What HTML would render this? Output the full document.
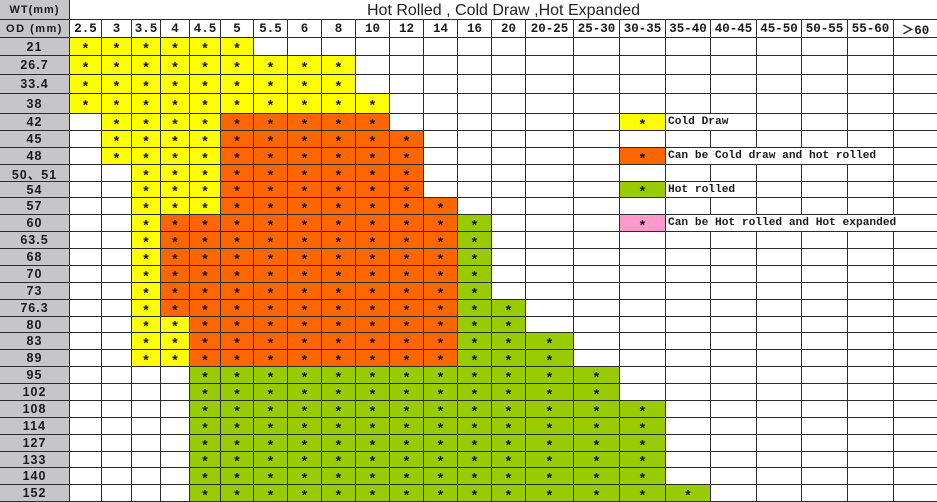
<!DOCTYPE html>
<html><head><meta charset="utf-8">
<style>
html,body{margin:0;padding:0;background:#fff;}
.g{display:grid;width:937px;height:502px;box-sizing:border-box;padding-bottom:1px;gap:1px;background:#2b2b2b;
grid-template-columns:69px 31px 29px 28px 28px 30px 32px 33px 33px 33px 33px 33px 33px 33px 33px 47px 45px 45px 44px 45px 44px 45px 45px 43px;
grid-template-rows:19px 17px 17px 18px 18px 19px 16px 16px 16px 16px 15px 16px 16px 16px 16px 16px 16px 16px 15px 16px 16px 16px 16px 16px 16px 16px 15px 16px 16px;}
.g>*{display:flex;align-items:center;justify-content:center;background:#fff;color:#1a1a1a;overflow:hidden;box-sizing:border-box;white-space:nowrap;font:bold 12px "Liberation Mono","Noto Sans CJK SC",monospace;}
y,o,v,k{padding-top:7px;line-height:10px;font-size:14px !important;color:#111 !important;}
y{background:#ffff00 !important}
o{background:#ff6600 !important}
v{background:#99cc00 !important}
k{background:#ff99cc !important}
h{font-size:12.5px !important;}
l{background:#c6c6c8 !important;font:bold 12.5px "Liberation Sans","Noto Sans CJK SC",sans-serif !important;letter-spacing:1px;}
l.wt{font-size:11px !important;}
l.od{font-size:11px !important;letter-spacing:1.5px;}
.ti{grid-column:2 / -1;font:16px "Liberation Sans",sans-serif !important;padding-top:3px;color:#222;}
t{justify-content:flex-start !important;padding-left:2px;font-size:11.2px !important;}
</style></head><body>
<div class="g">
<l class="wt">WT(mm)</l><div class="ti">Hot Rolled , Cold Draw ,Hot Expanded</div>
<l class="od">OD (mm)</l><h>2.5</h><h>3</h><h>3.5</h><h>4</h><h>4.5</h><h>5</h><h>5.5</h><h>6</h><h>8</h><h>10</h><h>12</h><h>14</h><h>16</h><h>20</h><h>20-25</h><h>25-30</h><h>30-35</h><h>35-40</h><h>40-45</h><h>45-50</h><h>50-55</h><h>55-60</h><h>＞60</h>

<l>21</l><y>*</y><y>*</y><y>*</y><y>*</y><y>*</y><y>*</y><w></w><w></w><w></w><w></w><w></w><w></w><w></w><w></w><w></w><w></w><w></w><w></w><w></w><w></w><w></w><w></w><w></w>

<l>26.7</l><y>*</y><y>*</y><y>*</y><y>*</y><y>*</y><y>*</y><y>*</y><y>*</y><y>*</y><w></w><w></w><w></w><w></w><w></w><w></w><w></w><w></w><w></w><w></w><w></w><w></w><w></w><w></w>

<l>33.4</l><y>*</y><y>*</y><y>*</y><y>*</y><y>*</y><y>*</y><y>*</y><y>*</y><y>*</y><w></w><w></w><w></w><w></w><w></w><w></w><w></w><w></w><w></w><w></w><w></w><w></w><w></w><w></w>

<l>38</l><y>*</y><y>*</y><y>*</y><y>*</y><y>*</y><y>*</y><y>*</y><y>*</y><y>*</y><y>*</y><w></w><w></w><w></w><w></w><w></w><w></w><w></w><w></w><w></w><w></w><w></w><w></w><w></w>

<l>42</l><w></w><y>*</y><y>*</y><y>*</y><y>*</y><o>*</o><o>*</o><o>*</o><o>*</o><o>*</o><w></w><w></w><w></w><w></w><w></w><w></w><y>*</y><t style="grid-column:span 2">Cold Draw</t><w></w><w></w><w></w><w></w>

<l>45</l><w></w><y>*</y><y>*</y><y>*</y><y>*</y><o>*</o><o>*</o><o>*</o><o>*</o><o>*</o><o>*</o><w></w><w></w><w></w><w></w><w></w><w></w><w></w><w></w><w></w><w></w><w></w><w></w>

<l>48</l><w></w><y>*</y><y>*</y><y>*</y><y>*</y><o>*</o><o>*</o><o>*</o><o>*</o><o>*</o><o>*</o><w></w><w></w><w></w><w></w><w></w><o>*</o><t style="grid-column:span 5">Can be Cold draw and hot rolled</t><w></w>

<l>50、51</l><w></w><w></w><y>*</y><y>*</y><y>*</y><o>*</o><o>*</o><o>*</o><o>*</o><o>*</o><o>*</o><w></w><w></w><w></w><w></w><w></w><w></w><w></w><w></w><w></w><w></w><w></w><w></w>

<l>54</l><w></w><w></w><y>*</y><y>*</y><y>*</y><o>*</o><o>*</o><o>*</o><o>*</o><o>*</o><o>*</o><w></w><w></w><w></w><w></w><w></w><v>*</v><t style="grid-column:span 2">Hot rolled</t><w></w><w></w><w></w><w></w>

<l>57</l><w></w><w></w><y>*</y><y>*</y><y>*</y><o>*</o><o>*</o><o>*</o><o>*</o><o>*</o><o>*</o><o>*</o><w></w><w></w><w></w><w></w><w></w><w></w><w></w><w></w><w></w><w></w><w></w>

<l>60</l><w></w><w></w><y>*</y><o>*</o><o>*</o><o>*</o><o>*</o><o>*</o><o>*</o><o>*</o><o>*</o><o>*</o><v>*</v><w></w><w></w><w></w><k>*</k><t style="grid-column:span 6">Can be Hot rolled and Hot expanded</t>

<l>63.5</l><w></w><w></w><y>*</y><o>*</o><o>*</o><o>*</o><o>*</o><o>*</o><o>*</o><o>*</o><o>*</o><o>*</o><v>*</v><w></w><w></w><w></w><w></w><w></w><w></w><w></w><w></w><w></w><w></w>

<l>68</l><w></w><w></w><y>*</y><o>*</o><o>*</o><o>*</o><o>*</o><o>*</o><o>*</o><o>*</o><o>*</o><o>*</o><v>*</v><w></w><w></w><w></w><w></w><w></w><w></w><w></w><w></w><w></w><w></w>

<l>70</l><w></w><w></w><y>*</y><o>*</o><o>*</o><o>*</o><o>*</o><o>*</o><o>*</o><o>*</o><o>*</o><o>*</o><v>*</v><w></w><w></w><w></w><w></w><w></w><w></w><w></w><w></w><w></w><w></w>

<l>73</l><w></w><w></w><y>*</y><o>*</o><o>*</o><o>*</o><o>*</o><o>*</o><o>*</o><o>*</o><o>*</o><o>*</o><v>*</v><w></w><w></w><w></w><w></w><w></w><w></w><w></w><w></w><w></w><w></w>

<l>76.3</l><w></w><w></w><y>*</y><o>*</o><o>*</o><o>*</o><o>*</o><o>*</o><o>*</o><o>*</o><o>*</o><o>*</o><v>*</v><v>*</v><w></w><w></w><w></w><w></w><w></w><w></w><w></w><w></w><w></w>

<l>80</l><w></w><w></w><y>*</y><y>*</y><o>*</o><o>*</o><o>*</o><o>*</o><o>*</o><o>*</o><o>*</o><o>*</o><v>*</v><v>*</v><w></w><w></w><w></w><w></w><w></w><w></w><w></w><w></w><w></w>

<l>83</l><w></w><w></w><y>*</y><y>*</y><o>*</o><o>*</o><o>*</o><o>*</o><o>*</o><o>*</o><o>*</o><o>*</o><v>*</v><v>*</v><v>*</v><w></w><w></w><w></w><w></w><w></w><w></w><w></w><w></w>

<l>89</l><w></w><w></w><y>*</y><y>*</y><o>*</o><o>*</o><o>*</o><o>*</o><o>*</o><o>*</o><o>*</o><o>*</o><v>*</v><v>*</v><v>*</v><w></w><w></w><w></w><w></w><w></w><w></w><w></w><w></w>

<l>95</l><w></w><w></w><w></w><w></w><v>*</v><v>*</v><v>*</v><v>*</v><v>*</v><v>*</v><v>*</v><v>*</v><v>*</v><v>*</v><v>*</v><v>*</v><w></w><w></w><w></w><w></w><w></w><w></w><w></w>

<l>102</l><w></w><w></w><w></w><w></w><v>*</v><v>*</v><v>*</v><v>*</v><v>*</v><v>*</v><v>*</v><v>*</v><v>*</v><v>*</v><v>*</v><v>*</v><w></w><w></w><w></w><w></w><w></w><w></w><w></w>

<l>108</l><w></w><w></w><w></w><w></w><v>*</v><v>*</v><v>*</v><v>*</v><v>*</v><v>*</v><v>*</v><v>*</v><v>*</v><v>*</v><v>*</v><v>*</v><v>*</v><w></w><w></w><w></w><w></w><w></w><w></w>

<l>114</l><w></w><w></w><w></w><w></w><v>*</v><v>*</v><v>*</v><v>*</v><v>*</v><v>*</v><v>*</v><v>*</v><v>*</v><v>*</v><v>*</v><v>*</v><v>*</v><w></w><w></w><w></w><w></w><w></w><w></w>

<l>127</l><w></w><w></w><w></w><w></w><v>*</v><v>*</v><v>*</v><v>*</v><v>*</v><v>*</v><v>*</v><v>*</v><v>*</v><v>*</v><v>*</v><v>*</v><v>*</v><w></w><w></w><w></w><w></w><w></w><w></w>

<l>133</l><w></w><w></w><w></w><w></w><v>*</v><v>*</v><v>*</v><v>*</v><v>*</v><v>*</v><v>*</v><v>*</v><v>*</v><v>*</v><v>*</v><v>*</v><v>*</v><w></w><w></w><w></w><w></w><w></w><w></w>

<l>140</l><w></w><w></w><w></w><w></w><v>*</v><v>*</v><v>*</v><v>*</v><v>*</v><v>*</v><v>*</v><v>*</v><v>*</v><v>*</v><v>*</v><v>*</v><v>*</v><w></w><w></w><w></w><w></w><w></w><w></w>

<l>152</l><w></w><w></w><w></w><w></w><v>*</v><v>*</v><v>*</v><v>*</v><v>*</v><v>*</v><v>*</v><v>*</v><v>*</v><v>*</v><v>*</v><v>*</v><v>*</v><v>*</v><w></w><w></w><w></w><w></w><w></w>
</div>
</body></html>
